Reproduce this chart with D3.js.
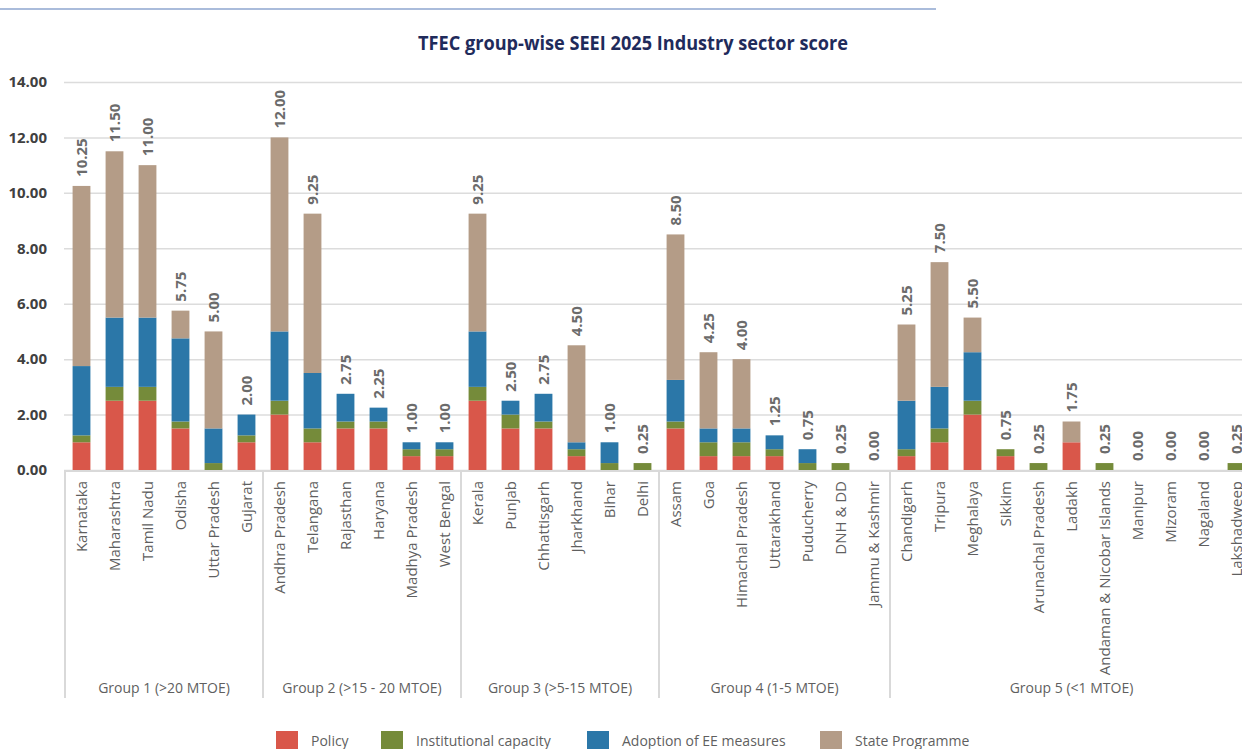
<!DOCTYPE html>
<html>
<head>
<meta charset="utf-8">
<script src="https://cdn.jsdelivr.net/npm/d3@7"></script>
<style>
  body { margin: 0; background: #fff; }
  svg { display: block; font-family: "Open Sans", sans-serif; }
</style>
</head>
<body>
<div id="chart"></div>
<script>
// TFEC group-wise SEEI 2025 Industry sector score
const states = [
  "Karnataka", "Maharashtra", "Tamil Nadu", "Odisha", "Uttar Pradesh", "Gujarat",
  "Andhra Pradesh", "Telangana", "Rajasthan", "Haryana", "Madhya Pradesh", "West Bengal",
  "Kerala", "Punjab", "Chhattisgarh", "Jharkhand", "Bihar", "Delhi",
  "Assam", "Goa", "Himachal Pradesh", "Uttarakhand", "Puducherry", "DNH & DD", "Jammu & Kashmir",
  "Chandigarh", "Tripura", "Meghalaya", "Sikkim", "Arunachal Pradesh", "Ladakh",
  "Andaman & Nicobar Islands", "Manipur", "Mizoram", "Nagaland", "Lakshadweep"
];
const groupLabels = ["Group 1 (>20 MTOE)", "Group 2 (>15 - 20 MTOE)", "Group 3 (>5-15 MTOE)", "Group 4 (1-5 MTOE)", "Group 5 (<1 MTOE)"];
const groupCounts = [6, 6, 6, 7, 11];

const seriesNames = ["Policy", "Institutional capacity", "Adoption of EE measures", "State Programme"];
const seriesColors = ["#d9574a", "#758b3a", "#2b77a8", "#b49c87"];

const policy = [
  1, 2.5, 2.5, 1.5, 0, 1,
  2, 1, 1.5, 1.5, 0.5, 0.5,
  2.5, 1.5, 1.5, 0.5, 0, 0,
  1.5, 0.5, 0.5, 0.5, 0, 0, 0,
  0.5, 1, 2, 0.5, 0, 1, 0, 0, 0, 0, 0
];
const institutional = [
  0.25, 0.5, 0.5, 0.25, 0.25, 0.25,
  0.5, 0.5, 0.25, 0.25, 0.25, 0.25,
  0.5, 0.5, 0.25, 0.25, 0.25, 0.25,
  0.25, 0.5, 0.5, 0.25, 0.25, 0.25, 0,
  0.25, 0.5, 0.5, 0.25, 0.25, 0, 0.25, 0, 0, 0, 0.25
];
const adoption = [
  2.5, 2.5, 2.5, 3, 1.25, 0.75,
  2.5, 2, 1, 0.5, 0.25, 0.25,
  2, 0.5, 1, 0.25, 0.75, 0,
  1.5, 0.5, 0.5, 0.5, 0.5, 0, 0,
  1.75, 1.5, 1.75, 0, 0, 0, 0, 0, 0, 0, 0
];
const programme = [
  6.5, 6, 5.5, 1, 3.5, 0,
  7, 5.75, 0, 0, 0, 0,
  4.25, 0, 0, 3.5, 0, 0,
  5.25, 2.75, 2.5, 0, 0, 0, 0,
  2.75, 4.5, 1.25, 0, 0, 0.75, 0, 0, 0, 0, 0
];
const yTicks = [0, 2, 4, 6, 8, 10, 12, 14];

const width = 1242;
const height = 749;
const left = 65;
const step = 33;
const right = left + step * states.length;
const y0 = 470, yTop = 82;
const bottom = 698;

const rows = states.map((s, i) => ({
  state: s,
  "Policy": policy[i],
  "Institutional capacity": institutional[i],
  "Adoption of EE measures": adoption[i],
  "State Programme": programme[i]
}));

const svg = d3.select("#chart").append("svg")
  .attr("width", width)
  .attr("height", height);

// rule across the top
svg.append("line")
  .attr("x1", 0).attr("x2", 936)
  .attr("y1", 9).attr("y2", 9)
  .attr("stroke", "#8ea6cf")
  .attr("stroke-width", 1.5);

svg.append("text")
  .attr("x", 633)
  .attr("y", 50)
  .attr("text-anchor", "middle")
  .attr("font-family", "'Open Sans', sans-serif")
  .attr("font-weight", "bold")
  .attr("font-size", 19)
  .attr("textLength", 430)
  .attr("lengthAdjust", "spacingAndGlyphs")
  .attr("fill", "#1f2b5b")
  .text("TFEC group-wise SEEI 2025 Industry sector score");

const x = d3.scaleBand()
  .domain(states)
  .range([left, right])
  .paddingInner(0.46)
  .paddingOuter(0.23);

const y = d3.scaleLinear()
  .domain([0, 14])
  .range([y0, yTop]);

// gridlines
svg.append("g")
  .attr("transform", `translate(${left - 1},0)`)
  .call(d3.axisLeft(y).tickValues(yTicks).tickSize(-(width - left + 1)).tickFormat(""))
  .call(g => g.select(".domain").remove())
  .call(g => g.selectAll("line").attr("stroke", "#dcdcdc").attr("stroke-width", 1.5));

// y axis labels
svg.append("g")
  .attr("transform", `translate(${left - 15},0)`)
  .call(d3.axisLeft(y).tickValues(yTicks).tickSize(0).tickFormat(d3.format(".2f")))
  .call(g => g.select(".domain").remove())
  .call(g => g.selectAll("text")
    .attr("font-family", "'Open Sans', sans-serif")
    .attr("font-size", 15)
    .attr("font-weight", "bold")
    .attr("fill", "#404040"));

// stacked bars
const stack = d3.stack().keys(seriesNames);
const layers = stack(rows);

svg.append("g")
  .selectAll("g")
  .data(layers)
  .join("g")
  .attr("fill", (d, i) => seriesColors[i])
  .selectAll("rect")
  .data(d => d)
  .join("rect")
  .attr("x", d => x(d.data.state))
  .attr("width", x.bandwidth())
  .attr("y", d => y(d[1]))
  .attr("height", d => y(d[0]) - y(d[1]));

// total labels
svg.append("g")
  .selectAll("text")
  .data(rows)
  .join("text")
  .attr("transform", d => {
    const total = seriesNames.reduce((a, k) => a + d[k], 0);
    return `translate(${x(d.state) + x.bandwidth() / 2 + 5},${y(total) - 9}) rotate(-90)`;
  })
  .attr("text-anchor", "start")
  .attr("font-size", 15)
  .attr("font-weight", "bold")
  .attr("fill", "#6b6b6b")
  .text(d => d3.format(".2f")(seriesNames.reduce((a, k) => a + d[k], 0)));

// x axis baseline
svg.append("line")
  .attr("x1", left).attr("x2", width)
  .attr("y1", y0 + 1).attr("y2", y0 + 1)
  .attr("stroke", "#d9d9d9")
  .attr("stroke-width", 2);

// group dividers
const bounds = [0];
groupCounts.forEach(c => bounds.push(bounds[bounds.length - 1] + c));
svg.append("g")
  .selectAll("line")
  .data(bounds)
  .join("line")
  .attr("x1", d => left + d * step)
  .attr("x2", d => left + d * step)
  .attr("y1", y0)
  .attr("y2", bottom)
  .attr("stroke", "#d9d9d9")
  .attr("stroke-width", 2);

// state labels
svg.append("g")
  .attr("transform", `translate(0,${y0})`)
  .call(d3.axisBottom(x).tickSize(0))
  .call(g => g.select(".domain").remove())
  .call(g => g.selectAll("text")
    .attr("font-family", "'Open Sans', sans-serif")
    .attr("font-size", 15)
    .attr("fill", "#5f5f5f")
    .attr("text-anchor", "end")
    .attr("transform", "rotate(-90)")
    .attr("x", -11)
    .attr("y", 0)
    .attr("dy", "0.35em"));

// group labels
svg.append("g")
  .selectAll("text")
  .data(groupLabels)
  .join("text")
  .attr("x", (d, i) => left + (bounds[i] + bounds[i + 1]) / 2 * step)
  .attr("y", 693)
  .attr("text-anchor", "middle")
  .attr("font-size", 14)
  .attr("fill", "#5f5f5f")
  .text(d => d);

// legend
const legendX = [276, 381, 587, 820];
const legend = svg.append("g")
  .selectAll("g")
  .data(seriesNames)
  .join("g")
  .attr("transform", (d, i) => `translate(${legendX[i]},731)`);
legend.append("rect")
  .attr("width", 22)
  .attr("height", 20)
  .attr("fill", (d, i) => seriesColors[i]);
legend.append("text")
  .attr("x", 35)
  .attr("y", 15)
  .attr("font-size", 14)
  .attr("fill", "#5f5f5f")
  .text(d => d);
</script>
</body>
</html>
